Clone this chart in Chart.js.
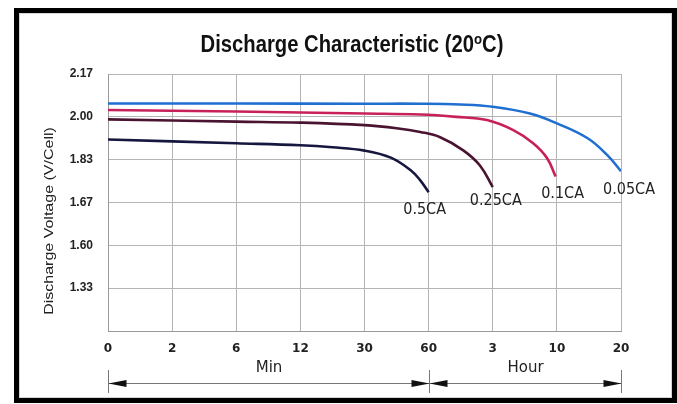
<!DOCTYPE html>
<html>
<head>
<meta charset="utf-8">
<script src="https://cdn.jsdelivr.net/npm/chart.js@4"></script>
<style>
  html, body { margin: 0; padding: 0; background: #fff; }
  #wrap { position: relative; width: 677px; height: 404px; overflow: hidden; }
  #chart { position: absolute; left: 0; top: 0; }
  #frame { position: absolute; left: 14px; top: 8px; width: 663px; height: 395px;
           border: 5px solid #000; box-sizing: border-box; pointer-events: none; }
  #frame::after { content: ''; position: absolute; left: 0; top: 0; right: 0; bottom: 0; border: 1px solid #d4d4d4; }
</style>
</head>
<body>
<div id="wrap">
  <canvas id="chart" width="677" height="404"></canvas>
  <div id="frame"></div>
</div>
<script>
// --- Data ---
const xTickLabels = ['0', '2', '6', '12', '30', '60', '3', '10', '20'];
const yTickLabels = ['', '1.33', '1.60', '1.67', '1.83', '2.00', '2.17'];
const unitLabels = ['Min', 'Hour'];
const seriesNames = ['0.05CA', '0.1CA', '0.25CA', '0.5CA'];
const seriesColors = ['#1f6fd0', '#c8205a', '#4a1431', '#16173f'];

// x is the position on the time grid (0 = "0", 5 = "60 min", 8 = "20 h")
const ca005X = [0, 2, 4, 4.87, 5.49, 6.0, 6.58, 7.0, 7.48, 7.79, 8];
const ca005V = [2.053, 2.053, 2.052, 2.052, 2.049, 2.040, 2.013, 1.974, 1.915, 1.847, 1.784];
const ca01X = [0, 2, 4, 4.87, 5.43, 5.91, 6.32, 6.63, 6.85, 6.98];
const ca01V = [2.027, 2.021, 2.013, 2.009, 2.000, 1.987, 1.947, 1.895, 1.835, 1.763];
const ca025X = [0, 2, 3, 4, 4.5, 4.87, 5.18, 5.54, 5.8, 6.0];
const ca025V = [1.990, 1.981, 1.977, 1.967, 1.955, 1.940, 1.919, 1.867, 1.807, 1.721];
const ca05X = [0, 2, 3, 3.5, 4, 4.41, 4.72, 4.87, 5.0];
const ca05V = [1.910, 1.895, 1.887, 1.879, 1.866, 1.838, 1.788, 1.748, 1.701];

const yMin = 1.15, yStep = 0.17;

const seriesX = [ca005X, ca01X, ca025X, ca05X];
const seriesV = [ca005V, ca01V, ca025V, ca05V];

// label offsets from the end of each curve (px)
const endLabelOffsets = [[8, 19], [7, 17], [3, 14], [-4, 18]];

const datasets = seriesNames.map((name, i) => ({
  label: name,
  data: seriesX[i].map((x, k) => ({ x: x, y: seriesV[i][k] })),
  borderColor: seriesColors[i],
  borderWidth: 2.6,
  pointRadius: 0,
  tension: 0.4,
  fill: false
}));

// --- Extra drawing: title, y title, curve labels, Min/Hour arrows ---
const extras = {
  id: 'extras',
  afterDraw(chart) {
    const ctx = chart.ctx;
    const xs = chart.scales.x;

    // Title with superscript "o"
    ctx.save();
    ctx.fillStyle = '#111';
    ctx.textBaseline = 'alphabetic';
    const big = 'bold 23px "Liberation Sans", Arial, sans-serif';
    const small = 'bold 15px "Liberation Sans", Arial, sans-serif';
    const p1 = 'Discharge Characteristic (20', p2 = 'o', p3 = 'C)';
    ctx.font = big;
    const w1 = ctx.measureText(p1).width, w3 = ctx.measureText(p3).width;
    ctx.font = small;
    const w2 = ctx.measureText(p2).width;
    const sx = 0.88;
    ctx.translate(352, 52);
    ctx.scale(sx, 1);
    let cx = -(w1 + w2 + w3) / 2;
    ctx.font = big; ctx.textAlign = 'left';
    ctx.fillText(p1, cx, 0); cx += w1;
    ctx.font = small; ctx.fillText(p2, cx, -8.5); cx += w2;
    ctx.font = big; ctx.fillText(p3, cx, 0);
    ctx.restore();

    // Y axis title
    ctx.save();
    ctx.fillStyle = '#222';
    ctx.font = '16px "Liberation Sans", Arial, sans-serif';
    ctx.textAlign = 'center';
    ctx.textBaseline = 'middle';
    ctx.translate(49, 221);
    ctx.rotate(-Math.PI / 2);
    ctx.scale(1, 0.85);
    ctx.fillText('Discharge Voltage (V/Cell)', 0, 0);
    ctx.restore();

    // Curve end labels
    ctx.save();
    ctx.fillStyle = '#222';
    ctx.font = '16px "DejaVu Sans Condensed", "DejaVu Sans", sans-serif';
    ctx.textAlign = 'center';
    ctx.textBaseline = 'middle';
    chart.data.datasets.forEach((ds, i) => {
      const pts = chart.getDatasetMeta(i).data;
      const last = pts[pts.length - 1];
      ctx.fillText(ds.label, last.x + endLabelOffsets[i][0], last.y + endLabelOffsets[i][1]);
    });
    ctx.restore();

    // Min / Hour range arrows
    const xa = Math.round(xs.getPixelForValue(0)) + 0.5;
    const xb = Math.round(xs.getPixelForValue(5)) + 0.5;
    const xc = Math.round(xs.getPixelForValue(8)) + 0.5;
    const ay = 383.5;
    ctx.save();
    ctx.strokeStyle = '#777';
    ctx.lineWidth = 1;
    ctx.beginPath();
    [xa, xb, xc].forEach(x => { ctx.moveTo(x, 370); ctx.lineTo(x, 393); });
    ctx.moveTo(xa, ay); ctx.lineTo(xc, ay);
    ctx.stroke();
    ctx.fillStyle = '#111';
    const arrow = (tip, dir) => {
      ctx.beginPath();
      ctx.moveTo(tip, ay);
      ctx.lineTo(tip - dir * 18, ay - 3.5);
      ctx.lineTo(tip - dir * 18, ay + 3.5);
      ctx.closePath();
      ctx.fill();
    };
    arrow(xa, -1); arrow(xb, 1); arrow(xb, -1); arrow(xc, 1);
    ctx.font = '15px "DejaVu Sans", sans-serif';
    ctx.textAlign = 'center';
    ctx.textBaseline = 'middle';
    ctx.fillStyle = '#222';
    ctx.fillText(unitLabels[0], (xa + xb) / 2, 368);
    ctx.fillText(unitLabels[1], (xb + xc) / 2, 368);
    ctx.restore();
  }
};

new Chart(document.getElementById('chart'), {
  type: 'line',
  data: { datasets: datasets },
  options: {
    responsive: false,
    animation: false,
    devicePixelRatio: 1,
    layout: { padding: { top: 74, right: 56, bottom: 0, left: 0 } },
    plugins: { legend: { display: false }, title: { display: false }, tooltip: { enabled: false } },
    scales: {
      x: {
        type: 'linear',
        min: 0,
        max: xTickLabels.length - 1,
        afterFit: s => { s.height = 73; },
        ticks: {
          stepSize: 1,
          autoSkip: false,
          maxRotation: 0,
          padding: 11,
          color: '#222',
          font: { family: '"DejaVu Sans", sans-serif', size: 12, weight: 'bold' },
          callback: v => xTickLabels[Math.round(v)] ?? ''
        },
        grid: { color: '#b4b4b4', drawTicks: false },
        border: { color: '#999' }
      },
      y: {
        type: 'linear',
        min: yMin,
        max: yMin + yStep * (yTickLabels.length - 1),
        afterFit: s => { s.width = 108; },
        afterBuildTicks: s => {
          s.ticks = yTickLabels.map((_, i) => ({ value: yMin + yStep * i }));
        },
        ticks: {
          padding: 15,
          color: '#222',
          font: { family: '"Liberation Sans", Arial, sans-serif', size: 12, weight: 'bold' },
          callback: (v, i) => yTickLabels[i]
        },
        grid: { color: '#b4b4b4', drawTicks: false },
        border: { color: '#999' }
      }
    }
  },
  plugins: [extras]
});
</script>
</body>
</html>
